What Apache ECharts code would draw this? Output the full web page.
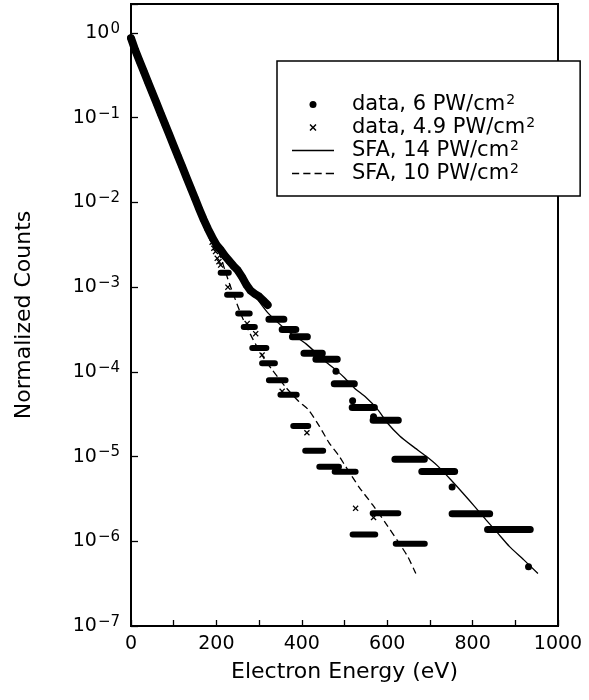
<!DOCTYPE html>
<html><head><meta charset="utf-8">
<script src="https://cdn.jsdelivr.net/npm/echarts@6/dist/echarts.min.js"></script>
<style>html,body{margin:0;padding:0;background:#fff}#c{width:589px;height:700px}</style>
</head><body><div id="c"></div>
<script>
const FONT = 'DejaVu Sans';

// ---- data, 6 PW/cm^2 : dense low-energy part (energy in eV, normalized counts)
const dot6E = [0,10,20,30,40,50,60,70,80,90,100,110,120,130,140,150,160,170,180,190,200,210,220,230,240,250,260,270,280,290,300,310,320];
const dot6V = [0.87,0.624,0.468,0.351,0.263,0.197,0.148,0.111,0.0832,0.0624,0.0468,0.0351,0.0263,0.0197,0.0148,0.0111,0.00832,0.00631,0.00490,0.00389,0.00316,0.00275,0.00234,0.00204,0.00178,0.00158,0.00132,0.00107,0.000912,0.000832,0.000776,0.000692,0.000617];
// isolated dots
const dot6SingleE = [480,519,568,752,931];
const dot6SingleV = [1.02e-4,4.57e-5,2.95e-5,4.37e-6,5.0e-7];
// runs of dots at one count level: start eV, end eV, level
const dot6RunStart = [323,354,378,405,433,476,518,567,618,681,752,835];
const dot6RunEnd   = [358,386,413,448,483,523,570,626,687,758,840,935];
const dot6RunV     = [4.17e-4,3.16e-4,2.60e-4,1.66e-4,1.41e-4,7.24e-5,3.80e-5,2.69e-5,9.33e-6,6.68e-6,2.11e-6,1.38e-6];

// ---- data, 4.9 PW/cm^2 : single crosses
const x49E = [150,160,170,180,190,194,198,202,206,210,227,272,292,307,354,412,526,568];
const x49V = [0.0111,0.0083,0.0063,0.0049,3.39e-3,2.88e-3,2.63e-3,2.19e-3,2.0e-3,1.82e-3,1.0e-3,3.72e-4,2.82e-4,1.58e-4,5.89e-5,1.91e-5,2.45e-6,1.91e-6];
// runs of crosses
const x49RunStart = [210,225,251,264,284,307,323,350,380,408,441,477,519,566,620];
const x49RunEnd   = [229,257,278,290,317,337,362,388,415,450,487,526,572,626,688];
const x49RunV     = [1.48e-3,8.13e-4,4.90e-4,3.39e-4,1.91e-4,1.26e-4,7.94e-5,5.37e-5,2.29e-5,1.17e-5,7.59e-6,6.61e-6,1.20e-6,2.14e-6,9.33e-7];

// ---- SFA, 14 PW/cm^2 (solid)
const sfa14E = [0,40,90,130,170,210,250,290,320,370,410,456,483,500,523,550,577,600,630,660,690,718,750,777,805,832,860,886,920,953];
const sfa14V = [0.87,0.263,0.0624,0.0197,0.00631,0.00290,0.00151,7.94e-4,5.01e-4,2.95e-4,2.14e-4,1.32e-4,1.02e-4,8.51e-5,6.46e-5,5.01e-5,3.63e-5,2.51e-5,1.74e-5,1.32e-5,1.02e-5,7.76e-6,5.25e-6,3.72e-6,2.57e-6,1.78e-6,1.23e-6,8.71e-7,6.03e-7,4.17e-7];

// ---- SFA, 10 PW/cm^2 (dashed)
const sfa10E = [0,40,90,130,170,200,230,260,286,310,331,362,393,416,441,464,487,503,534,566,597,624,648,667];
const sfa10V = [0.87,0.263,0.0624,0.0197,0.00631,0.00316,0.00112,4.47e-4,2.40e-4,1.48e-4,1.05e-4,6.61e-5,4.47e-5,3.55e-5,2.29e-5,1.45e-5,1.02e-5,7.59e-6,4.37e-6,2.69e-6,1.62e-6,1.02e-6,6.61e-7,4.17e-7];

// axis ticks
const xTickStep = 100, xLabelStep = 200;
const yMin = 1e-7, yMax = 2.2;

const NAME6 = 'data, 6 PW/cm²', NAME49 = 'data, 4.9 PW/cm²', NAME14 = 'SFA, 14 PW/cm²', NAME10 = 'SFA, 10 PW/cm²';

const zip = (a, b) => a.map((v, i) => [v, b[i]]);
function runs(s, e, v) {
  const out = [];
  s.forEach((x0, i) => { out.push([x0, v[i]], [e[i], v[i]], ['-', '-']); });
  return out;
}
const crossPath = 'path://M0,1.5 L1.5,0 L5,3.5 L8.5,0 L10,1.5 L6.5,5 L10,8.5 L8.5,10 L5,6.5 L1.5,10 L0,8.5 L3.5,5 Z';
const solidIcon = 'path://M0,0h41v1.3h-41z';
const dashIcon = 'path://M0,0h7v1.3h-7z M11,0h7v1.3h-7z M22,0h7v1.3h-7z M33,0h8v1.3h-8z';

const chart = echarts.init(document.getElementById('c'), null, {renderer: 'canvas'});
chart.setOption({
  animation: false,
  backgroundColor: '#fff',
  textStyle: {fontFamily: FONT, color: '#000'},
  grid: {left: 131, right: 31, top: 4, bottom: 74, show: true, borderColor: '#000', borderWidth: 2, backgroundColor: 'transparent'},
  legend: {
    orient: 'vertical', left: 277, top: 61,
    itemWidth: 42, itemHeight: 7, itemGap: 1,
    padding: [32, 45, 12, 15],
    backgroundColor: '#fff', borderColor: '#000', borderWidth: 1.5,
    selectedMode: false,
    itemStyle: {color: '#000', borderWidth: 0, opacity: 1},
    data: [
      {name: NAME6, icon: 'circle'},
      {name: NAME49, icon: crossPath},
      {name: NAME14, icon: solidIcon},
      {name: NAME10, icon: dashIcon}
    ],
    formatter: n => '{t|' + n.replace('²', '') + '}{s|2}',
    textStyle: {
      padding: [0, 0, 0, 13],
      rich: {
        t: {fontSize: 21, fontFamily: FONT, color: '#000'},
        s: {fontSize: 14, fontFamily: FONT, color: '#000', padding: [0, 0, 9, 1]}
      }
    }
  },
  xAxis: {
    type: 'value', min: 0, max: 1000, interval: xTickStep,
    name: 'Electron Energy (eV)', nameLocation: 'middle', nameGap: 35,
    nameTextStyle: {fontSize: 22, fontFamily: FONT, color: '#000'},
    axisLine: {show: true, onZero: false, lineStyle: {color: '#000', width: 2}},
    axisTick: {show: true, inside: true, length: 6, lineStyle: {color: '#000', width: 1.3}},
    axisLabel: {fontSize: 19, fontFamily: FONT, color: '#000', margin: 9,
      formatter: v => (v % xLabelStep === 0 ? String(v) : '')},
    splitLine: {show: false}
  },
  yAxis: {
    type: 'log', logBase: 10, min: yMin, max: yMax, interval: 1,
    name: 'Normalized Counts', nameLocation: 'middle', nameGap: 96, nameRotate: 90,
    nameTextStyle: {fontSize: 22, fontFamily: FONT, color: '#000'},
    axisLine: {show: true, lineStyle: {color: '#000', width: 2}},
    axisTick: {show: true, inside: true, length: 7, lineStyle: {color: '#000', width: 1.3}},
    axisLabel: {
      margin: 11, color: '#000',
      formatter: v => {
        const l = Math.log10(v), e = Math.round(l);
        if (Math.abs(l - e) > 1e-6) return '';
        return '{b|10}{e|' + (e < 0 ? '−' + (-e) : e) + '}';
      },
      rich: {
        b: {fontSize: 19, fontFamily: FONT, color: '#000'},
        e: {fontSize: 15, fontFamily: FONT, color: '#000', padding: [0, 0, 8, 1]}
      }
    },
    splitLine: {show: false}
  },
  series: [
    {name: NAME10, type: 'line', data: zip(sfa10E, sfa10V), symbol: 'none', smooth: 0.2,
     lineStyle: {color: '#000', width: 1.3, type: [7, 4]}, itemStyle: {color: '#000'}, z: 2},
    {name: NAME14, type: 'line', data: zip(sfa14E, sfa14V), symbol: 'none', smooth: 0.2,
     lineStyle: {color: '#000', width: 1.3}, itemStyle: {color: '#000'}, z: 2},
    {name: 'runs49', type: 'line', data: runs(x49RunStart, x49RunEnd, x49RunV), symbol: 'none', silent: true,
     connectNulls: false, lineStyle: {color: '#000', width: 6, cap: 'round'}, z: 3},
    {name: NAME49, type: 'scatter', data: zip(x49E, x49V), symbol: crossPath, symbolSize: 6,
     itemStyle: {color: '#000', opacity: 1}, z: 3},
    {name: 'band6', type: 'line', data: zip(dot6E, dot6V), symbol: 'none', silent: true,
     lineStyle: {color: '#000', width: 8, cap: 'round', join: 'round'}, z: 4},
    {name: 'runs6', type: 'line', data: runs(dot6RunStart, dot6RunEnd, dot6RunV), symbol: 'none', silent: true,
     connectNulls: false, lineStyle: {color: '#000', width: 7, cap: 'round'}, z: 4},
    {name: NAME6, type: 'scatter', data: zip(dot6E, dot6V).concat(zip(dot6SingleE, dot6SingleV)), symbol: 'circle', symbolSize: 7,
     itemStyle: {color: '#000', opacity: 1}, z: 4}
  ]
});
</script></body></html>
